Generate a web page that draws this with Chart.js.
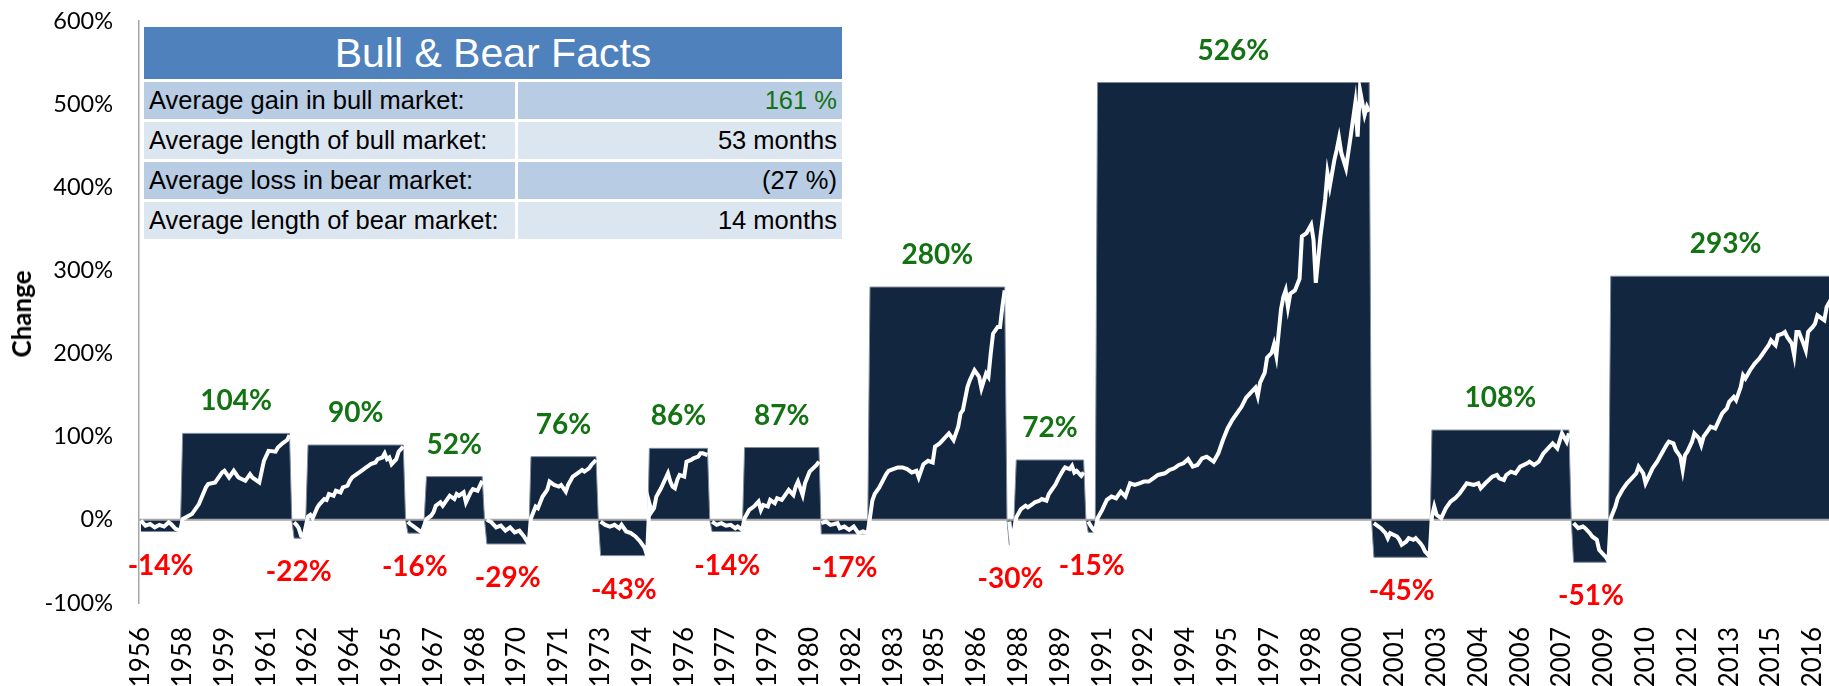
<!DOCTYPE html>
<html>
<head>
<meta charset="utf-8">
<title>Bull &amp; Bear Markets</title>
<script src="https://cdn.jsdelivr.net/npm/chart.js@4.4.1/dist/chart.umd.min.js"></script>
<style>
  html, body { margin: 0; padding: 0; background: #fff; overflow: hidden; width: 1829px; height: 686px; }
  #wrap { position: relative; width: 1829px; height: 700px; }
  #chart { display: block; }
  #ytitle { position: absolute; left: 21px; top: 314px; transform: translate(-50%, -50%) rotate(-90deg);
            font: bold 26px Lato, 'Open Sans', sans-serif; color: #000; white-space: nowrap; }
  #facts { position: absolute; left: 144px; top: 27px; width: 698px; height: 212px;
           font-family: 'Liberation Sans', Arial, Helvetica, sans-serif; color: #000; }
  #facts .head { position: absolute; left: 0; top: 0; width: 698px; height: 52px; background: #4f81bd;
                 color: #fff; font-size: 41px; line-height: 52px; text-align: center; }
  #facts .cell { position: absolute; height: 37px; line-height: 37px; font-size: 25.5px; white-space: nowrap; box-sizing: border-box; }
  #facts .l { left: 0; width: 371px; padding-left: 5px; }
  #facts .r { left: 374px; width: 324px; padding-right: 5px; text-align: right; }
  #facts .dark { background: #b8cce4; }
  #facts .light { background: #dce6f1; }
  #facts .gain { color: #137313; }
</style>
</head>
<body>
<div id="wrap">
  <canvas id="chart" width="1829" height="700"></canvas>
  <div id="ytitle"></div>
  <div id="facts">
    <div class="head">Bull &amp; Bear Facts</div>
  </div>
</div>
<script>
// Axis labels: one year label every 18 months, starting Aug 1956 (month 0)
const tickYears = ['1956','1958','1959','1961','1962','1964','1965','1967','1968','1970','1971',
  '1973','1974','1976','1977','1979','1980','1982','1983','1985','1986','1988','1989','1991',
  '1992','1994','1995','1997','1998','2000','2001','2003','2004','2006','2007','2009','2010',
  '2012','2013','2015','2016'];
const TICK_STEP = 18;
const yTitle = 'Change';

// Market phases: first month, last month, total change (%)
const phaseStart  = [0, 18, 66, 72, 115, 123, 149, 168, 198, 219, 246, 260, 293, 314, 374, 377, 408, 412, 531, 556, 617, 633];
const phaseEnd    = [17, 64, 70, 113, 121, 147, 167, 196, 218, 244, 259, 292, 313, 372, 375, 406, 411, 529, 555, 615, 632, 732];
const phaseChange = [-14, 104, -22, 90, -16, 52, -29, 76, -43, 86, -14, 87, -17, 280, -30, 72, -15, 526, -45, 108, -51, 293];

// Cumulative change within each phase: [month, change %]
const marketPaths = [
  [[0,-1],[2,-7],[4,-5],[6,-9],[8,-6],[10,-8],[12,-3],[13,-5],[15,-11],[17,-13]],
  [[18,1],[20,4],[22,7],[25,19],[28,39],[29,43],[32,45],[35,57],[36,59],[38,51],[40,59],[42,51],[45,47],[47,55],[48,51],[51,45],[53,71],[55,83],[58,82],[59,87],[61,92],[63,96],[64,102]],
  [[66,-3],[67,-6],[68,-10],[69,-19],[70,-21]],
  [[72,4],[73,6],[74,2],[76,15],[77,19],[79,25],[80,24],[81,31],[83,29],[84,35],[86,33],[87,39],[89,41],[90,47],[91,51],[93,55],[95,59],[97,63],[98,65],[99,67],[101,69],[102,73],[104,75],[105,80],[106,73],[107,75],[108,67],[110,73],[111,82],[113,88]],
  [[115,-2],[116,-5],[117,-7],[119,-11],[121,-15]],
  [[123,1],[125,5],[126,9],[127,17],[129,21],[130,17],[132,25],[133,29],[135,25],[136,31],[137,29],[139,33],[140,21],[142,33],[143,37],[145,35],[146,41],[147,47]],
  [[149,0],[151,-3],[153,-9],[155,-7],[157,-13],[159,-9],[161,-15],[163,-13],[165,-20],[167,-29]],
  [[168,2],[170,16],[171,14],[173,28],[175,36],[176,46],[178,42],[180,40],[181,42],[183,34],[184,42],[186,52],[188,56],[190,60],[191,58],[193,62],[194,66],[196,72]],
  [[198,-2],[200,-6],[202,-8],[204,-6],[206,-10],[207,-6],[209,-14],[211,-16],[213,-20],[215,-26],[217,-34],[218,-43]],
  [[219,20],[220,10],[221,14],[222,28],[224,38],[225,44],[227,56],[228,46],[229,40],[230,38],[231,48],[232,54],[234,52],[235,70],[237,72],[238,74],[240,76],[241,80],[242,80],[244,78]],
  [[246,-2],[248,-6],[250,-4],[252,-7],[254,-6],[256,-10],[257,-8],[259,-12]],
  [[260,2],[262,12],[264,16],[266,22],[267,12],[268,18],[270,16],[271,24],[273,20],[274,26],[276,24],[277,28],[279,36],[281,30],[282,40],[283,46],[285,30],[286,44],[288,58],[291,66],[292,70]],
  [[293,-4],[295,-2],[297,-6],[300,-4],[301,-10],[303,-8],[305,-12],[307,-8],[309,-16],[311,-14],[313,-16]],
  [[314,3],[315,23],[316,31],[318,39],[321,55],[322,59],[324,61],[326,63],[328,63],[330,61],[332,57],[334,59],[335,51],[337,67],[339,71],[341,69],[342,88],[344,92],[346,98],[348,104],[350,96],[352,112],[353,128],[354,132],[356,160],[357,168],[359,180],[361,172],[362,158],[364,176],[365,172],[366,200],[367,224],[369,232],[370,232],[371,256],[372,276]],
  [[374,-2],[375,-29]],
  [[377,3],[379,13],[381,17],[382,15],[384,19],[385,21],[387,23],[388,25],[390,23],[391,31],[392,35],[394,43],[395,49],[397,59],[398,63],[400,61],[401,65],[402,57],[403,59],[405,53],[406,57]],
  [[408,-2],[409,-7],[410,-11],[411,-14]],
  [[412,2],[414,12],[416,24],[418,28],[420,26],[422,34],[424,28],[426,44],[428,42],[430,44],[432,46],[434,46],[436,50],[438,54],[441,56],[443,60],[445,62],[447,66],[449,68],[451,73],[453,64],[455,66],[457,74],[459,76],[462,70],[464,80],[466,96],[468,110],[470,120],[472,128],[474,136],[476,147],[478,153],[480,159],[481,149],[482,165],[484,177],[485,195],[487,201],[488,211],[489,197],[490,225],[491,253],[492,268],[493,276],[494,256],[495,272],[497,276],[499,290],[500,341],[502,345],[504,355],[505,337],[506,285],[508,341],[510,385],[511,417],[512,401],[514,433],[515,445],[516,459],[517,441],[519,423],[521,461],[523,501],[524,461],[525,517],[527,487],[528,497],[529,491]],
  [[531,-4],[533,-8],[534,-10],[536,-16],[537,-22],[538,-16],[541,-20],[542,-24],[543,-30],[545,-26],[546,-22],[548,-24],[549,-22],[551,-28],[552,-32],[553,-38],[555,-44]],
  [[556,4],[557,16],[558,6],[560,2],[562,14],[564,22],[566,26],[568,32],[570,40],[571,44],[574,42],[576,44],[577,38],[579,44],[582,52],[584,54],[585,50],[587,48],[588,54],[590,58],[592,56],[594,64],[597,68],[598,70],[600,66],[602,70],[604,80],[606,86],[608,92],[610,86],[612,104],[614,94],[615,104]],
  [[617,-4],[619,-10],[621,-8],[622,-10],[624,-16],[625,-20],[627,-24],[628,-36],[630,-42],[631,-45],[632,-50]],
  [[633,2],[635,16],[636,26],[638,36],[640,44],[642,50],[644,56],[645,64],[647,56],[648,44],[650,56],[651,62],[653,70],[655,80],[657,90],[658,94],[660,92],[661,84],[663,76],[664,60],[665,78],[666,82],[668,94],[669,104],[671,98],[672,90],[673,100],[675,108],[676,112],[678,110],[679,116],[681,128],[683,134],[684,142],[686,148],[687,144],[689,160],[690,174],[691,170],[693,180],[695,188],[697,194],[698,198],[699,202],[701,210],[702,216],[704,210],[705,222],[707,224],[708,226],[709,220],[711,212],[712,198],[713,226],[714,226],[716,212],[717,204],[718,226],[720,232],[721,236],[722,246],[724,242],[725,240],[726,256],[728,266]]
];

// Summary table
const factLabels = ['Average gain in bull market:', 'Average length of bull market:',
                    'Average loss in bear market:', 'Average length of bear market:'];
const factValues = ['161 %', '53 months', '(27 %)', '14 months'];

const NAVY = '#13263f';
const GAIN_COLOR = '#137313';
const LOSS_COLOR = '#ff0000';

document.getElementById('ytitle').textContent = yTitle;

// Build the table rows
(function buildFacts() {
  const box = document.getElementById('facts');
  const rowTops = [55, 95, 135, 175];
  factLabels.forEach((label, i) => {
    const shade = i % 2 === 0 ? 'dark' : 'light';
    const l = document.createElement('div');
    l.className = 'cell l ' + shade;
    l.style.top = rowTops[i] + 'px';
    l.textContent = label;
    const r = document.createElement('div');
    r.className = 'cell r ' + shade + (i === 0 ? ' gain' : '');
    r.style.top = rowTops[i] + 'px';
    r.textContent = factValues[i];
    box.appendChild(l);
    box.appendChild(r);
  });
})();

// Area outline: each phase held flat at its total change, zero between phases
const areaPoints = [];
phaseStart.forEach((s, i) => {
  const e = phaseEnd[i];
  areaPoints.push({ x: s, y: phaseChange[i] }, { x: e, y: phaseChange[i] });
  const next = phaseStart[i + 1];
  if (next !== undefined) {
    for (let m = e + 1; m < next; m++) areaPoints.push({ x: m, y: 0 });
  }
});

// White path: a bear runs straight into the next bull, break after each bull
const pathPoints = [];
marketPaths.forEach((path, i) => {
  path.forEach(([m, v]) => pathPoints.push({ x: m, y: v }));
  if (phaseChange[i] > 0) pathPoints.push({ x: phaseEnd[i] + 0.5, y: null });
});

const zeroLine = {
  id: 'zeroLine',
  beforeDatasetDraw(chart, args) {
    if (args.index !== 1) return;
    const { ctx, chartArea } = chart;
    const y = chart.scales.y.getPixelForValue(0);
    ctx.save();
    ctx.strokeStyle = '#a6a6a6';
    ctx.lineWidth = 2;
    ctx.beginPath();
    ctx.moveTo(chartArea.left, y);
    ctx.lineTo(chartArea.right, y);
    ctx.stroke();
    ctx.restore();
  }
};

const phaseLabels = {
  id: 'phaseLabels',
  afterDatasetsDraw(chart) {
    const { ctx } = chart;
    const xs = chart.scales.x, ys = chart.scales.y;
    ctx.save();
    ctx.font = 'bold 28px Lato, "Open Sans", sans-serif';
    ctx.textAlign = 'center';
    ctx.textBaseline = 'middle';
    phaseChange.forEach((v, i) => {
      const x = xs.getPixelForValue((phaseStart[i] + phaseEnd[i]) / 2);
      const yEdge = ys.getPixelForValue(v);
      if (v > 0) {
        ctx.fillStyle = GAIN_COLOR;
        ctx.fillText(v + '%', x, yEdge - 32);
      } else {
        ctx.fillStyle = LOSS_COLOR;
        ctx.fillText(v + '%', x, yEdge + 34);
      }
    });
    ctx.restore();
  }
};

new Chart(document.getElementById('chart'), {
  type: 'line',
  data: {
    datasets: [
      {
        data: areaPoints,
        fill: 'origin',
        backgroundColor: NAVY,
        borderColor: '#7f8ba0',
        borderWidth: 1,
        pointRadius: 0,
        tension: 0,
        order: 2
      },
      {
        data: pathPoints,
        fill: false,
        borderColor: '#ffffff',
        borderWidth: 4,
        pointRadius: 0,
        tension: 0,
        spanGaps: false,
        order: 1
      }
    ]
  },
  options: {
    responsive: false,
    animation: false,
    devicePixelRatio: 1,
    layout: { padding: { top: 21, left: 0, right: 0, bottom: 0 } },
    plugins: { legend: { display: false }, tooltip: { enabled: false } },
    scales: {
      x: {
        type: 'linear',
        min: -0.8,
        max: 727,
        grid: { display: false, drawTicks: false },
        border: { display: false },
        afterBuildTicks(scale) {
          scale.ticks = tickYears.map((_, i) => ({ value: i * TICK_STEP }));
        },
        afterFit(scale) {
          scale.height = 97;
          scale.paddingLeft = 0;
          scale.paddingRight = 0;
        },
        ticks: {
          autoSkip: false,
          minRotation: 90,
          maxRotation: 90,
          padding: 24,
          color: '#000',
          font: { family: 'Lato, "Open Sans", sans-serif', size: 26 },
          callback: (value, index) => tickYears[index]
        }
      },
      y: {
        min: -100,
        max: 600,
        grid: { display: false, drawTicks: false },
        border: { display: true, color: '#a6a6a6', width: 1.5 },
        afterFit(scale) {
          scale.width = 139;
          scale.paddingTop = 0;
          scale.paddingBottom = 0;
        },
        ticks: {
          stepSize: 100,
          padding: 26,
          color: '#000',
          font: { family: 'Lato, "Open Sans", sans-serif', size: 23.5 },
          callback: (v) => v + '%'
        }
      }
    }
  },
  plugins: [zeroLine, phaseLabels]
});
</script>
</body>
</html>
